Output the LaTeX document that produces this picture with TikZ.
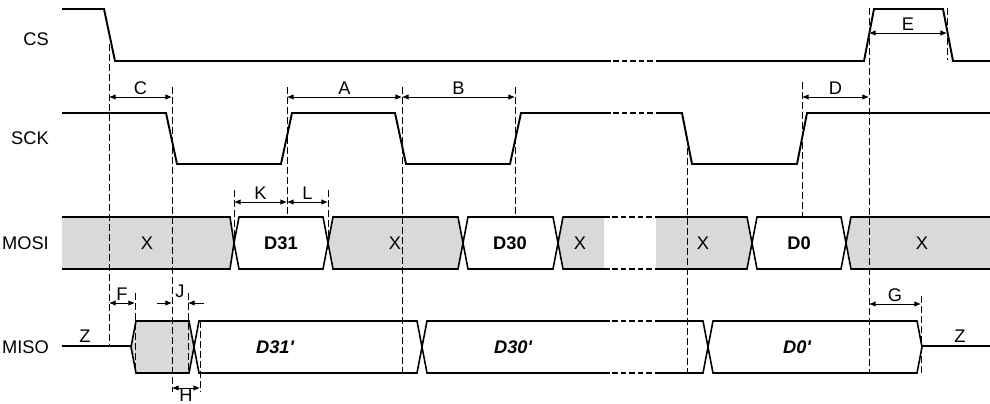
\documentclass[tikz,border=0pt]{standalone}
\usepackage{fontspec}
\setmainfont{Liberation Sans}
\usetikzlibrary{arrows,arrows.meta}
\definecolor{busgrey}{RGB}{217,217,217}

\begin{document}
\begin{tikzpicture}[x=0.02cm,y=-0.02cm,font=\fontsize{10.4}{12}\selectfont,
  sig/.style={line width=1.1pt},
  bus/.style={line width=0.9pt},
  brk/.style={bus,dash pattern=on 3.2pt off 1.6pt},
  guide/.style={line width=0.55pt,dash pattern=on 4pt off 1.7pt},
  dim/.style={<->,>={Latex[length=3.8pt,width=3.2pt]},line width=0.55pt},
  lbl/.style={above,inner sep=1pt}]

\useasboundingbox (0,0) rectangle (990,404);

% signal names
\node[anchor=east] (ncs) at (55,39) {CS};
\node[anchor=east] (nsck) at (55,138) {SCK};
\node[anchor=east] (nmosi) at (55,243) {MOSI};
\node[anchor=east] (nmiso) at (55,347) {MISO};

% CS and SCK
\draw[sig] (62,9) -- (104,9) -- (115,61) -- (605,61);
\draw[sig] (656,61) -- (864,61) -- (874,9) -- (943,9) -- (953,61) -- (990,61);
\draw[brk,sig] (605,61) -- (656,61);
\draw[sig] (62,113) -- (166,113) -- (177,164) -- (281,164) -- (292,113) -- (395,113)
  -- (406,164) -- (510,164) -- (521,113) -- (605,113);
\draw[sig] (656,113) -- (682,113) -- (692,164) -- (797,164) -- (807,113) -- (990,113);
\draw[brk,sig] (605,113) -- (656,113);

% MOSI
\fill[busgrey] (62,217) -- (230,217) -- (234,243) -- (230,269) -- (62,269) -- cycle;
\draw[bus] (62,217) -- (230,217) -- (234,243) -- (230,269) -- (62,269);
\foreach \a/\b/\c in {234/328/white,328/463/busgrey,463/558/white,752/846/white}
  \draw[bus,fill=\c] (\a,243) -- (\a+5,217) -- (\b-5,217) -- (\b,243) -- (\b-5,269) -- (\a+5,269) -- cycle;
\fill[busgrey] (558,243) -- (563,217) -- (604,217) -- (604,269) -- (563,269) -- cycle;
\draw[bus] (604,217) -- (563,217) -- (558,243) -- (563,269) -- (604,269);
\draw[brk] (604,217) -- (656,217);
\draw[brk] (604,269) -- (656,269);
\fill[busgrey] (656,217) -- (747,217) -- (752,243) -- (747,269) -- (656,269) -- cycle;
\draw[bus] (656,217) -- (747,217) -- (752,243) -- (747,269) -- (656,269);
\fill[busgrey] (846,243) -- (851,217) -- (990,217) -- (990,269) -- (851,269) -- cycle;
\draw[bus] (990,217) -- (851,217) -- (846,243) -- (851,269) -- (990,269);

% MISO
\draw[bus] (62,346) -- (131,346);
\draw[bus,fill=busgrey] (131,347) -- (136,321) -- (189,321) -- (194,347) -- (189,373) -- (136,373) -- cycle;
\draw[bus] (194,347) -- (199,321) -- (417,321) -- (422,347) -- (417,373) -- (199,373) -- cycle;
\draw[bus] (604,321) -- (427,321) -- (422,347) -- (427,373) -- (604,373);
\draw[brk] (604,321) -- (656,321);
\draw[brk] (604,373) -- (656,373);
\draw[bus] (656,321) -- (703,321) -- (708,347) -- (703,373) -- (656,373);
\draw[bus] (708,347) -- (713,321) -- (917,321) -- (922,347) -- (917,373) -- (713,373) -- cycle;
\draw[bus] (922,346) -- (990,346);

% data texts
\node (x1) at (147,243) {X};
\node (d31) at (281,243) {\bfseries D31};
\node (x2) at (395,243) {X};
\node (d30) at (510,243) {\bfseries D30};
\node (x3) at (580,243) {X};
\node (x4) at (703,243) {X};
\node (d0) at (799,243) {\bfseries D0};
\node (x5) at (922,243) {X};
\node (d31r) at (275,347) {\bfseries\itshape D31\textquotesingle};
\node (d30r) at (513,347) {\bfseries\itshape D30\textquotesingle};
\node (d0r) at (797,347) {\bfseries\itshape D0\textquotesingle};
\node (z1) at (85,336) {Z};
\node (z2) at (960,336) {Z};

% guides
\draw[guide] (109,44) -- (109,346);
\draw[guide] (172,87) -- (172,392);
\draw[guide] (234,190) -- (234,243);
\draw[guide] (287,87) -- (287,217);
\draw[guide] (328,190) -- (328,243);
\draw[guide] (402,87) -- (402,373);
\draw[guide] (515,87) -- (515,217);
\draw[guide] (687,138) -- (687,373);
\draw[guide] (802,82) -- (802,217);
\draw[guide] (869,8) -- (869,373);
\draw[guide] (947,8) -- (947,60);
\draw[guide] (135,293) -- (135,373);
\draw[guide] (188,293) -- (188,373);
\draw[guide] (200,321) -- (200,392);
\draw[guide] (921,296) -- (921,373);

% timing marks
\coordinate (c0) at (109,97);
\coordinate (c1) at (172,97);
\coordinate (a0) at (287,97);
\coordinate (a1) at (402,97);
\coordinate (b1) at (515,97);
\coordinate (d0) at (802,97);
\coordinate (d1) at (869,97);
\coordinate (e0) at (869,33);
\coordinate (e1) at (947,33);
\coordinate (k0) at (234,202);
\coordinate (k1) at (287,202);
\coordinate (l1) at (328,202);
\coordinate (f0) at (109,303);
\coordinate (f1) at (135,303);
\coordinate (j0) at (157,303);
\coordinate (j1) at (172,303);
\coordinate (j2) at (188,303);
\coordinate (j3) at (204,303);
\coordinate (h0) at (172,388);
\coordinate (h1) at (200,388);
\coordinate (g0) at (869,304);
\coordinate (g1) at (921,304);

\draw[dim] (c0) -- node[lbl] (tc) {C} (c1);
\draw[dim] (a0) -- node[lbl] (ta) {A} (a1);
\draw[dim] (a1) -- node[lbl] (tb) {B} (b1);
\draw[dim] (d0) -- node[lbl] (td) {D} (d1);
\draw[dim] (e0) -- node[lbl] (te) {E} (e1);
\draw[dim] (k0) -- node[lbl] (tk) {K} (k1);
\draw[dim] (k1) -- node[lbl] (tl) {L} (l1);
\draw[dim] (f0) -- node[lbl] (tf) {F} (f1);
\draw[dim] (g0) -- node[lbl] (tg) {G} (g1);
\draw[dim] (h0) -- (h1);
\node[inner sep=0pt] (th) at (186,395) {H};
\draw[dim,<-] (j1) -- (j0);
\draw[dim,<-] (j2) -- (j3);
\node (tj) at (180,291) {J};

\end{tikzpicture}
\end{document}
